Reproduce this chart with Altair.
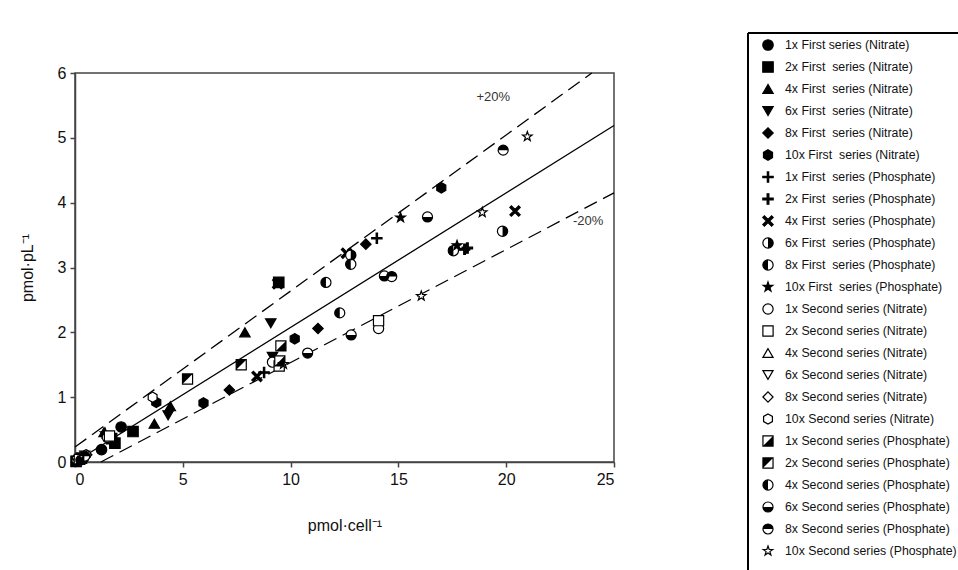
import altair as alt
import pandas as pd

FONT = "Liberation Sans"
NB = "\u00a0"

# ---- legend / series labels ----
series_labels = [
    "1x First series (Nitrate)",
    "2x First " + NB + "series (Nitrate)",
    "4x First " + NB + "series (Nitrate)",
    "6x First " + NB + "series (Nitrate)",
    "8x First " + NB + "series (Nitrate)",
    "10x First " + NB + "series (Nitrate)",
    "1x First " + NB + "series (Phosphate)",
    "2x First " + NB + "series (Phosphate)",
    "4x First " + NB + "series (Phosphate)",
    "6x First " + NB + "series (Phosphate)",
    "8x First " + NB + "series (Phosphate)",
    "10x First " + NB + "series (Phosphate)",
    "1x Second series (Nitrate)",
    "2x Second series (Nitrate)",
    "4x Second series (Nitrate)",
    "6x Second series (Nitrate)",
    "8x Second series (Nitrate)",
    "10x Second series (Nitrate)",
    "1x Second series (Phosphate)",
    "2x Second series (Phosphate)",
    "4x Second series (Phosphate)",
    "6x Second series (Phosphate)",
    "8x Second series (Phosphate)",
    "10x Second series (Phosphate)",
]

# ---- symbol paths ----
HEX = "M0,-1L0.87,-0.5L0.87,0.5L0,1L-0.87,0.5L-0.87,-0.5Z"
STAR = ("M0,-1L0.235,-0.324L0.951,-0.309L0.38,0.124L0.588,0.809L0,0.4"
        "L-0.588,0.809L-0.38,0.124L-0.951,-0.309L-0.235,-0.324Z")
PLUS_THIN = ("M-1,-0.13L-0.13,-0.13L-0.13,-1L0.13,-1L0.13,-0.13L1,-0.13L1,0.13"
             "L0.13,0.13L0.13,1L-0.13,1L-0.13,0.13L-1,0.13Z")
PLUS = ("M-1,-0.17L-0.17,-0.17L-0.17,-1L0.17,-1L0.17,-0.17L1,-0.17L1,0.17"
        "L0.17,0.17L0.17,1L-0.17,1L-0.17,0.17L-1,0.17Z")
XCROSS = ("M-1,-0.7L-0.7,-1L0,-0.3L0.7,-1L1,-0.7L0.3,0L1,0.7L0.7,1L0,0.3"
          "L-0.7,1L-1,0.7L-0.3,0Z")
HALF_L = "M0,-1A1,1 0 0,0 0,1Z"
HALF_R = "M0,-1A1,1 0 0,1 0,1Z"
HALF_T = "M-1,0A1,1 0 0,1 1,0Z"
HALF_B = "M-1,0A1,1 0 0,0 1,0Z"
TRI_LR = "M1,-1L1,1L-1,1Z"
TRI_UL = "M-1,-1L1,-1L-1,1Z"

base_shapes = [
    "circle", "square", "triangle-up", "triangle-down", "diamond", HEX,
    PLUS_THIN, PLUS, XCROSS, "circle", "circle", STAR,
    "circle", "square", "triangle-up", "triangle-down", "diamond", HEX,
    "square", "square", "circle", "circle", "circle", STAR,
]
base_fills = ["black"] * 9 + ["white", "white", "black"] + ["white"] * 12
sizes = [
    110, 100, 100, 100, 100, 120,
    45, 70, 90, 100, 100, 130,
    100, 90, 90, 90, 90, 110,
    90, 90, 100, 100, 100, 130,
]
overlay_paths = {
    HALF_R: ["6x First " + NB + "series (Phosphate)"],
    HALF_L: ["8x First " + NB + "series (Phosphate)", "4x Second series (Phosphate)"],
    HALF_B: ["6x Second series (Phosphate)"],
    HALF_T: ["8x Second series (Phosphate)"],
    TRI_LR: ["1x Second series (Phosphate)"],
    TRI_UL: ["2x Second series (Phosphate)"],
}

# ---- data points (series index, x, y) ----
pt_series = [
    0, 0, 0, 0,
    1, 1, 1, 1, 1, 1,
    2, 2, 2, 2, 2,
    3, 3, 3, 3,
    4, 4, 4, 4,
    5, 5, 5, 5, 5,
    6, 6, 6,
    7, 7, 7,
    8, 8, 8, 8,
    9, 9, 9,
    10, 10, 10,
    11, 11, 11,
    12, 12, 12, 12,
    13, 13, 13,
    14, 14,
    15, 15,
    16, 16,
    17, 17,
    18, 18, 18,
    19, 19,
    20, 20,
    21, 21, 21, 21,
    22, 22, 22,
    23, 23, 23, 23,
]
pt_x = [
    0.12, 1.23, 2.14, 0.40,
    0.30, 1.85, 2.69, 1.70, 9.45, 0.05,
    3.68, 4.42, 7.88, 1.35, 0.22,
    4.32, 9.08, 9.16, 0.18,
    7.16, 11.27, 13.49, 0.28,
    5.96, 10.19, 16.99, 3.77, 0.35,
    8.77, 14.00, 0.20,
    18.07, 18.20, 0.40,
    8.44, 20.41, 12.59, 9.40,
    19.83, 12.79, 0.10,
    17.55, 12.79, 0.25,
    15.10, 17.72, 1.40,
    14.08, 9.16, 1.50, 0.30,
    14.08, 9.47, 1.60,
    0.25, 0.15,
    0.45, 0.08,
    0.35, 0.55,
    0.50, 3.60,
    9.55, 9.50, 0.20,
    7.71, 5.22,
    11.64, 12.28,
    16.35, 12.81, 10.79, 14.35,
    19.86, 14.69, 0.45,
    20.98, 18.89, 16.06, 9.67,
]
pt_y = [
    0.02, 0.19, 0.54, 0.07,
    0.06, 0.29, 0.47, 0.36, 2.77, 0.01,
    0.59, 0.86, 2.00, 0.46, 0.04,
    0.72, 2.14, 1.62, 0.03,
    1.11, 2.06, 3.36, 0.05,
    0.91, 1.90, 4.23, 0.92, 0.06,
    1.38, 3.45, 0.05,
    3.28, 3.30, 0.08,
    1.32, 3.87, 3.22, 2.75,
    3.56, 3.19, 0.02,
    3.26, 3.05, 0.03,
    3.77, 3.34, 0.44,
    2.06, 1.54, 0.38, 0.06,
    2.18, 1.48, 0.40,
    0.05, 0.04,
    0.10, 0.02,
    0.07, 0.11,
    0.11, 1.00,
    1.79, 1.56, 0.04,
    1.50, 1.28,
    2.77, 2.30,
    3.78, 1.96, 1.68, 2.87,
    4.81, 2.86, 0.09,
    5.02, 3.85, 2.56, 1.51,
]

# ---- reference lines (endpoints) ----
line_names = ["fit", "fit", "+20%", "+20%", "-20%", "-20%"]
line_x = [0.0, 25.0, 0.0, 23.97, 1.2, 25.0]
line_y = [0.0, 5.19, 0.23, 6.0, 0.0, 4.15]

pct_labels = ["+20%", "-20%"]
pct_x = [19.4, 23.8]
pct_y = [5.63, 3.72]

# ---- build tables ----
df = pd.DataFrame({"series": [series_labels[i] for i in pt_series], "x": pt_x, "y": pt_y})
lines = pd.DataFrame({"line": line_names, "x": line_x, "y": line_y})
pct = pd.DataFrame({"label": pct_labels, "x": pct_x, "y": pct_y})
leg = pd.DataFrame({"series": series_labels, "row": list(range(len(series_labels)))})

shape_scale = alt.Scale(domain=series_labels, range=base_shapes)
fill_scale = alt.Scale(domain=series_labels, range=base_fills)
size_scale = alt.Scale(domain=series_labels, range=sizes)

xs = alt.Scale(domain=[0, 25], nice=False, zero=False)
ys = alt.Scale(domain=[0, 6], nice=False, zero=False)
X = alt.X("x:Q", scale=xs, axis=alt.Axis(
    values=[0, 5, 10, 15, 20, 25], title="pmol·cell⁻¹", grid=False,
    tickSize=5, labelPadding=4, titlePadding=30))
Y = alt.Y("y:Q", scale=ys, axis=alt.Axis(
    values=[0, 1, 2, 3, 4, 5, 6], title="pmol·pL⁻¹", grid=False,
    tickSize=5, labelPadding=4, titlePadding=22))

base_pts = alt.Chart(df).mark_point(filled=True, stroke="black", strokeWidth=1.2, opacity=1).encode(
    x=X, y=Y,
    shape=alt.Shape("series:N", scale=shape_scale, legend=None),
    fill=alt.Fill("series:N", scale=fill_scale, legend=None),
    size=alt.Size("series:N", scale=size_scale, legend=None),
)

over_layers = []
for path, members in overlay_paths.items():
    over_layers.append(
        alt.Chart(df).transform_filter(alt.FieldOneOfPredicate(field="series", oneOf=members))
        .mark_point(shape=path, filled=True, color="black", strokeWidth=0, opacity=1)
        .encode(x=X, y=Y, size=alt.Size("series:N", scale=size_scale, legend=None))
    )

fit_line = alt.Chart(lines).transform_filter(alt.datum.line == "fit").mark_line(
    color="black", strokeWidth=1.3).encode(x=X, y=Y)
dash_lines = alt.Chart(lines).transform_filter(alt.datum.line != "fit").mark_line(
    color="black", strokeWidth=1.3, strokeDash=[14, 7]).encode(x=X, y=Y, detail="line:N")
pct_text = alt.Chart(pct).mark_text(font=FONT, fontSize=13, color="#333").encode(
    x=X, y=Y, text="label:N")

main = alt.layer(fit_line, dash_lines, base_pts, *over_layers, pct_text)

# ---- legend ----
LY = alt.Y("row:Q", scale=alt.Scale(domain=[0, 23], range=[-28, 478]), axis=None)
leg_box = alt.Chart(leg).mark_rect(fillOpacity=0, stroke="black", strokeWidth=1).encode(
    x=alt.value(673), x2=alt.value(1000), y=alt.value(-40), y2=alt.value(620))
leg_pts = alt.Chart(leg).mark_point(filled=True, stroke="black", strokeWidth=1.2, opacity=1).encode(
    x=alt.value(693), y=LY,
    shape=alt.Shape("series:N", scale=shape_scale, legend=None),
    fill=alt.Fill("series:N", scale=fill_scale, legend=None),
    size=alt.Size("series:N", scale=size_scale, legend=None),
)
leg_over = []
for path, members in overlay_paths.items():
    leg_over.append(
        alt.Chart(leg).transform_filter(alt.FieldOneOfPredicate(field="series", oneOf=members))
        .mark_point(shape=path, filled=True, color="black", strokeWidth=0, opacity=1)
        .encode(x=alt.value(693), y=LY, size=alt.Size("series:N", scale=size_scale, legend=None))
    )
leg_text = alt.Chart(leg).mark_text(font=FONT, fontSize=12.3, align="left", baseline="middle", color="#111").encode(
    x=alt.value(710), y=LY, text="series:N")

legend = alt.layer(leg_box, leg_pts, *leg_over, leg_text)

chart = alt.layer(main, legend).resolve_scale(x="independent", y="independent").properties(
    width=539, height=389,
    autosize=alt.AutoSizeParams(type="none"),
    padding={"left": 75, "top": 73, "right": 344, "bottom": 108},
).configure_view(stroke="#444", strokeWidth=1.5).configure_axis(
    labelFont=FONT, titleFont=FONT, labelFontSize=16, titleFontSize=16,
    titleFontWeight="normal", labelColor="#111", titleColor="#111",
    domainColor="#444", tickColor="#444", domainWidth=1.5, tickWidth=1.5,
)

chart.save("out.html", embed_options={"renderer": "svg", "actions": False})
